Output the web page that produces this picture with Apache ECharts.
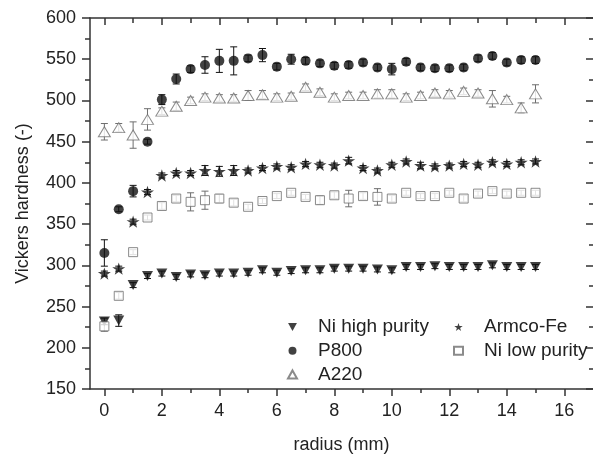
<!DOCTYPE html>
<html><head><meta charset="utf-8">
<script src="https://cdn.jsdelivr.net/npm/echarts@6/dist/echarts.min.js"></script>
<style>html,body{margin:0;padding:0;background:#fff}#c{width:593px;height:461px}</style>
</head><body><div id="c"></div>
<script>
const radius = [0,0.5,1,1.5,2,2.5,3,3.5,4,4.5,5,5.5,6,6.5,7,7.5,8,8.5,9,9.5,10,10.5,11,11.5,12,12.5,13,13.5,14,14.5,15];

const niHigh    = [232,233,276,287,290,286,289,288,290,290,291,294,291,293,294,294,296,296,296,295,294,298,298,299,298,298,298,300,298,298,298];
const niHighErr = [4,7,3,3,3,3,3,3,3,3,3,3,3,3,3,3,3,3,3,3,3,3,3,3,3,3,3,3,3,3,3];

const p800      = [315,368,390,450,501,526,538,543,548,548,551,555,541,550,548,545,542,543,546,540,538,547,540,539,539,540,551,554,546,549,549];
const p800Err   = [16,3,7,3,6,6,4,10,14,17,4,8,4,6,4,4,4,4,4,4,7,4,4,4,4,4,4,4,4,4,4];

const a220      = [462,467,458,477,487,493,500,504,503,503,506,507,504,505,516,510,504,506,506,508,508,504,506,509,508,511,509,502,501,491,508];
const a220Err   = [10,5,16,13,4,5,4,4,4,4,6,5,4,4,4,4,4,4,4,5,5,4,4,4,4,4,4,10,4,6,11];

const armco     = [290,296,353,389,409,412,412,415,414,415,415,418,420,419,423,422,421,427,418,415,422,426,421,420,421,423,422,425,423,425,426];
const armcoErr  = [3,3,3,3,3,3,3,6,6,6,3,3,3,3,3,3,3,4,3,3,3,3,4,3,3,3,3,3,3,3,3];

const niLow     = [226,263,316,358,372,381,377,379,381,376,371,378,384,388,383,379,385,381,384,383,381,388,384,384,388,381,387,390,387,388,388];
const niLowErr  = [6,4,3,3,4,4,11,11,5,4,3,3,3,3,3,5,4,10,4,10,4,3,3,3,3,4,3,3,3,3,3];

const xMajorTicks = [0,2,4,6,8,10,12,14,16];
const xMinorTicks = [1,3,5,7,9,11,13,15];

const FONT = "'Liberation Sans', Arial, sans-serif";
const GRAY = '#6e6e6e';
const BLACK = '#111';
const STAR = 'path://M50 0 L61.23 34.55 L97.55 34.55 L68.17 55.9 L79.39 90.45 L50 69.1 L20.61 90.45 L31.83 55.9 L2.45 34.55 L38.77 34.55 Z';
const DOWN_TRI = 'path://M0 0 L10 0 L5 9 Z';

function pts(vals){ return radius.map((x,i)=>[x, vals[i]]); }

function errSeries(id, vals, errs, color){
  return {
    type:'custom', name:id, silent:true, z:1,
    xAxisIndex:0, yAxisIndex:0,
    data: radius.map((x,i)=>[x, vals[i]-errs[i], vals[i]+errs[i]]),
    encode:{x:0, y:[1,2]},
    renderItem: function(params, api){
      const lo = api.coord([api.value(0), api.value(1)]);
      const hi = api.coord([api.value(0), api.value(2)]);
      const w = 3.5;
      const st = {stroke:color, lineWidth:1};
      return {type:'group', children:[
        {type:'line', shape:{x1:lo[0],y1:lo[1],x2:hi[0],y2:hi[1]}, style:st},
        {type:'line', shape:{x1:lo[0]-w,y1:lo[1],x2:lo[0]+w,y2:lo[1]}, style:st},
        {type:'line', shape:{x1:hi[0]-w,y1:hi[1],x2:hi[0]+w,y2:hi[1]}, style:st}
      ]};
    }
  };
}

const axisLineStyle = {color:'#333', width:1.5};
const legendText = {fontSize:19, color:'#222', lineHeight:20, fontFamily:FONT, padding:[0,0,0,16]};
const chart = echarts.init(document.getElementById('c'), null, {renderer:'canvas'});
chart.setOption({
  animation:false,
  textStyle:{fontFamily:FONT},
  grid:{left:90, right:0, top:18, bottom:72, containLabel:false},
  xAxis:[
    {type:'value', position:'bottom', min:-0.5, max:17,
     axisLine:{show:true, onZero:false, lineStyle:axisLineStyle},
     axisTick:{show:true, customValues:xMajorTicks, length:7, lineStyle:{width:1.5,color:'#333'}},
     axisLabel:{customValues:xMajorTicks, fontSize:18, color:'#222', margin:13, fontFamily:FONT},
     splitLine:{show:false},
     name:'radius (mm)', nameLocation:'middle', nameGap:47,
     nameTextStyle:{fontSize:18, color:'#222', fontFamily:FONT}},
    {type:'value', position:'bottom', min:-0.5, max:17,
     axisLine:{show:false, onZero:false},
     axisTick:{show:true, customValues:xMinorTicks, length:4, lineStyle:{width:1.5,color:'#333'}},
     axisLabel:{show:false}, splitLine:{show:false}},
    {type:'value', position:'top', min:-0.5, max:17,
     axisLine:{show:true, onZero:false, lineStyle:axisLineStyle},
     axisTick:{show:true, inside:true, customValues:xMajorTicks, length:7, lineStyle:{width:1.5,color:'#333'}},
     axisLabel:{show:false}, splitLine:{show:false}},
    {type:'value', position:'top', min:-0.5, max:17,
     axisLine:{show:false, onZero:false},
     axisTick:{show:true, inside:true, customValues:xMinorTicks, length:5, lineStyle:{width:1.5,color:'#333'}},
     axisLabel:{show:false}, splitLine:{show:false}}
  ],
  yAxis:[
    {type:'value', position:'left', min:150, max:600, interval:50,
     axisLine:{show:true, onZero:false, lineStyle:axisLineStyle},
     axisTick:{show:true, length:8, lineStyle:{width:1.5,color:'#333'}},
     minorTick:{show:true, splitNumber:2, length:5, lineStyle:{width:1.5,color:'#333'}},
     axisLabel:{fontSize:18, color:'#222', margin:14, fontFamily:FONT},
     splitLine:{show:false},
     name:'Vickers hardness (-)', nameLocation:'middle', nameGap:58,
     nameTextStyle:{fontSize:18, color:'#222', fontFamily:FONT}},
    {type:'value', position:'right', min:150, max:600, interval:50,
     axisLine:{show:false, onZero:false},
     axisTick:{show:true, inside:true, length:7, lineStyle:{width:1.5,color:'#333'}},
     minorTick:{show:true, splitNumber:2, length:4, lineStyle:{width:1.5,color:'#333'}},
     axisLabel:{show:false}, splitLine:{show:false}}
  ],
  legend:[
    {orient:'vertical', left:282, top:312, itemWidth:9, itemHeight:8, itemGap:3.7,
     data:[{name:'Ni high purity', icon:DOWN_TRI},'P800','A220'], textStyle:legendText},
    {orient:'vertical', left:448, top:312, itemWidth:9, itemHeight:8, itemGap:3.7,
     data:['Armco-Fe','Ni low purity'], textStyle:legendText}
  ],
  series:[
    errSeries('e1', niHigh, niHighErr, BLACK),
    errSeries('e2', p800, p800Err, BLACK),
    errSeries('e3', a220, a220Err, GRAY),
    errSeries('e4', armco, armcoErr, BLACK),
    errSeries('e5', niLow, niLowErr, GRAY),
    {type:'scatter', name:'Ni high purity', data:pts(niHigh), symbol:'triangle', symbolRotate:180,
     symbolSize:[11,10], itemStyle:{color:BLACK}, z:3},
    {type:'scatter', name:'P800', data:pts(p800), symbol:'circle', symbolSize:10,
     itemStyle:{color:BLACK}, z:3},
    {type:'scatter', name:'A220', data:pts(a220), symbol:'triangle', symbolSize:[12,10],
     itemStyle:{color:'#fff', borderColor:GRAY, borderWidth:1}, z:3},
    {type:'scatter', name:'Armco-Fe', data:pts(armco), symbol:STAR, symbolKeepAspect:true, symbolSize:13,
     itemStyle:{color:BLACK}, z:3},
    {type:'scatter', name:'Ni low purity', data:pts(niLow), symbol:'rect', symbolSize:9,
     itemStyle:{color:'#fff', borderColor:GRAY, borderWidth:1}, z:3}
  ]
});
</script></body></html>
